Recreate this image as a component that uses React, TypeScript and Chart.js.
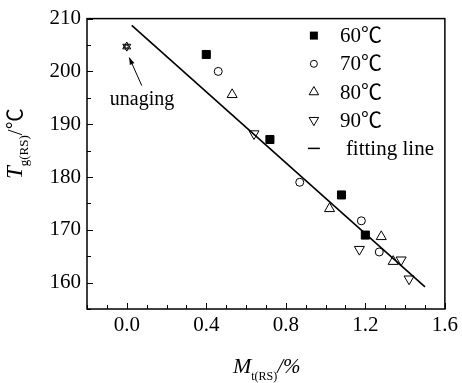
import React, { useEffect, useRef } from 'react';
import { Chart, registerables } from 'chart.js';

Chart.register(...registerables);

// ---- data ----
const series60X = [0.4, 0.72, 1.08, 1.2];
const series60Y = [203.2, 187.1, 176.6, 169.0];
const series70X = [0.46, 0.87, 1.18, 1.27];
const series70Y = [200.0, 179.0, 171.7, 165.8];
const series80X = [0.53, 1.02, 1.28, 1.34];
const series80Y = [195.6, 174.0, 168.7, 164.0];
const series90X = [0.64, 1.17, 1.38, 1.42];
const series90Y = [188.2, 166.3, 164.3, 160.7];
const unagingX = [0];
const unagingY = [204.7];
const fitX = [0.025, 1.5];
const fitY = [208.7, 159.2];

const legendLabels = ['60℃', '70℃', '80℃', '90℃', 'fitting line'];
const xMajorTicks = [0.0, 0.4, 0.8, 1.2, 1.6];
const yMajorTicks = [160, 170, 180, 190, 200, 210];
const annotationText = 'unaging';

const FONT = "'Liberation Serif', 'Noto Sans CJK SC', serif";

const pts = (xs: number[], ys: number[]) => xs.map((x, i) => ({ x, y: ys[i] }));

function drawMarker(ctx: CanvasRenderingContext2D, kind: string, x: number, y: number) {
  ctx.save();
  ctx.strokeStyle = '#000';
  ctx.fillStyle = '#000';
  ctx.lineWidth = 1;
  if (kind === 'rect') {
    ctx.fillRect(x - 4, y - 4, 8, 8);
  } else if (kind === 'circle') {
    ctx.beginPath();
    ctx.arc(x, y, 3.5, 0, Math.PI * 2);
    ctx.stroke();
  } else if (kind === 'up' || kind === 'down') {
    const r = 5.5;
    const s = kind === 'up' ? 1 : -1;
    ctx.beginPath();
    ctx.moveTo(x, y - s * r);
    ctx.lineTo(x + r * 0.866, y + s * r * 0.5);
    ctx.lineTo(x - r * 0.866, y + s * r * 0.5);
    ctx.closePath();
    ctx.stroke();
  } else if (kind === 'line') {
    ctx.beginPath();
    ctx.moveTo(x - 6, y);
    ctx.lineTo(x + 6, y);
    ctx.lineWidth = 1.5;
    ctx.stroke();
  }
  ctx.restore();
}

const decorPlugin = {
  id: 'decor',
  beforeDatasetsDraw(chart: any) {
    const { ctx, chartArea: a, scales } = chart;
    ctx.save();
    ctx.strokeStyle = '#000';
    ctx.lineWidth = 1.5;
    ctx.strokeRect(a.left, a.top, a.right - a.left, a.bottom - a.top);
    ctx.lineWidth = 1;
    const xs = scales.x;
    xs.ticks.forEach((t: any) => {
      const px = Math.round(xs.getPixelForValue(t.value)) + 0.5;
      const major = xMajorTicks.some((m) => Math.abs(m - t.value) < 1e-6);
      const len = major ? 6 : 4;
      ctx.beginPath();
      ctx.moveTo(px, a.bottom);
      ctx.lineTo(px, a.bottom - len);
      ctx.stroke();
    });
    const ys = scales.y;
    ys.ticks.forEach((t: any) => {
      const py = Math.round(ys.getPixelForValue(t.value)) + 0.5;
      const major = yMajorTicks.some((m) => Math.abs(m - t.value) < 1e-6);
      const len = major ? 6 : 4;
      ctx.beginPath();
      ctx.moveTo(a.left, py);
      ctx.lineTo(a.left + len, py);
      ctx.stroke();
    });
    ctx.restore();
  },
  afterDraw(chart: any) {
    const { ctx, chartArea: a, scales } = chart;
    ctx.save();
    ctx.fillStyle = '#000';
    ctx.strokeStyle = '#000';
    ctx.textAlign = 'left';

    // legend
    const kinds = ['rect', 'circle', 'up', 'down', 'line'];
    const lx = a.right - 131;
    legendLabels.forEach((lab, i) => {
      const cy = a.top + 17 + i * 28.2;
      drawMarker(ctx, kinds[i], lx, cy);
      ctx.font = `21px ${FONT}`;
      ctx.textBaseline = 'middle';
      ctx.fillText(lab, lx + (i === 4 ? 32 : 26), cy + 1);
    });
    ctx.textBaseline = 'alphabetic';

    // annotation
    const ux = scales.x.getPixelForValue(unagingX[0]);
    const uy = scales.y.getPixelForValue(unagingY[0]);
    ctx.font = `20px ${FONT}`;
    ctx.fillText(annotationText, ux - 17, uy + 58);
    const tx = ux + 15, ty = uy + 39;
    const hx = ux + 2.5, hy = uy + 11;
    ctx.lineWidth = 1;
    ctx.beginPath();
    ctx.moveTo(tx, ty);
    ctx.lineTo(hx, hy);
    ctx.stroke();
    const ang = Math.atan2(hy - ty, hx - tx);
    ctx.beginPath();
    ctx.moveTo(hx, hy);
    ctx.lineTo(hx - 7 * Math.cos(ang) + 2.5 * Math.sin(ang), hy - 7 * Math.sin(ang) - 2.5 * Math.cos(ang));
    ctx.lineTo(hx - 7 * Math.cos(ang) - 2.5 * Math.sin(ang), hy - 7 * Math.sin(ang) + 2.5 * Math.cos(ang));
    ctx.closePath();
    ctx.fill();

    // x title
    const xMid = (a.left + a.right) / 2;
    let cx = xMid - 33;
    const xb = 373;
    ctx.font = `italic 22px ${FONT}`;
    ctx.fillText('M', cx, xb);
    cx += ctx.measureText('M').width;
    ctx.font = `12px ${FONT}`;
    ctx.fillText('t(RS)', cx, xb + 7);
    cx += ctx.measureText('t(RS)').width;
    ctx.font = `italic 21px ${FONT}`;
    ctx.fillText('/%', cx, xb);

    // y title (rotated)
    ctx.save();
    ctx.translate(22, 179);
    ctx.rotate(-Math.PI / 2);
    let ry = 0;
    ctx.font = `italic 23px ${FONT}`;
    ctx.fillText('T', ry, 0);
    ry += ctx.measureText('T').width;
    ctx.font = `13px ${FONT}`;
    ctx.fillText('g(RS)', ry, 6);
    ry += ctx.measureText('g(RS)').width;
    ctx.font = `21px ${FONT}`;
    ctx.fillText('/℃', ry, 0);
    ctx.restore();

    ctx.restore();
  },
};

export default function App() {
  const ref = useRef<HTMLCanvasElement>(null);
  useEffect(() => {
    if (!ref.current) return;
    const black = '#000';
    const clear = 'rgba(255,255,255,0)';
    const chart = new Chart(ref.current, {
      type: 'scatter',
      data: {
        datasets: [
          { label: legendLabels[0], data: pts(series60X, series60Y), pointStyle: 'rect', pointRadius: 5.7, backgroundColor: black, borderColor: black, borderWidth: 1 },
          { label: legendLabels[1], data: pts(series70X, series70Y), pointStyle: 'circle', pointRadius: 4, backgroundColor: clear, borderColor: black, borderWidth: 1 },
          { label: legendLabels[2], data: pts(series80X, series80Y), pointStyle: 'triangle', pointRadius: 5.8, backgroundColor: clear, borderColor: black, borderWidth: 1 },
          { label: legendLabels[3], data: pts(series90X, series90Y), pointStyle: 'triangle', rotation: 180, pointRadius: 5.8, backgroundColor: clear, borderColor: black, borderWidth: 1 },
          { label: 'unaging-a', data: pts(unagingX, unagingY), pointStyle: 'triangle', pointRadius: 4.6, backgroundColor: clear, borderColor: black, borderWidth: 1 },
          { label: 'unaging-b', data: pts(unagingX, unagingY), pointStyle: 'triangle', rotation: 180, pointRadius: 4.6, backgroundColor: clear, borderColor: black, borderWidth: 1 },
          { label: 'unaging-c', data: pts(unagingX, unagingY), pointStyle: 'circle', pointRadius: 1.5, backgroundColor: clear, borderColor: black, borderWidth: 1 },
          { label: legendLabels[4], data: pts(fitX, fitY), showLine: true, pointRadius: 0, borderColor: black, borderWidth: 1.6, backgroundColor: black } as any,
        ],
      },
      options: {
        responsive: false,
        animation: false,
        devicePixelRatio: 1,
        layout: { padding: { left: 0, right: 14, top: 16, bottom: 0 } },
        plugins: { legend: { display: false }, tooltip: { enabled: false } },
        scales: {
          x: {
            type: 'linear',
            min: -0.2,
            max: 1.6,
            grid: { display: false, drawTicks: false },
            border: { display: false },
            ticks: {
              stepSize: 0.1,
              autoSkip: false,
              maxRotation: 0,
              padding: 4,
              color: black,
              font: { family: FONT, size: 21 },
              callback: (v: any) => {
                const n = Number(v);
                return xMajorTicks.some((m) => Math.abs(m - n) < 1e-6) ? n.toFixed(1) : '';
              },
            },
            afterFit: (s: any) => { s.height = 74; },
          },
          y: {
            type: 'linear',
            min: 155,
            max: 210,
            grid: { display: false, drawTicks: false },
            border: { display: false },
            ticks: {
              stepSize: 5,
              autoSkip: false,
              padding: 6,
              color: black,
              font: { family: FONT, size: 21 },
              callback: (v: any) => {
                const n = Number(v);
                return yMajorTicks.some((m) => Math.abs(m - n) < 1e-6) ? String(n) : '';
              },
            },
            afterFit: (s: any) => { s.width = 87; },
          },
        },
      },
      plugins: [decorPlugin],
    });
    return () => chart.destroy();
  }, []);
  return (
    <div style={{ position: 'absolute', left: 0, top: 0, width: 462, height: 383, background: '#fff' }}>
      <canvas ref={ref} width={462} height={383} style={{ display: 'block' }} />
    </div>
  );
}
